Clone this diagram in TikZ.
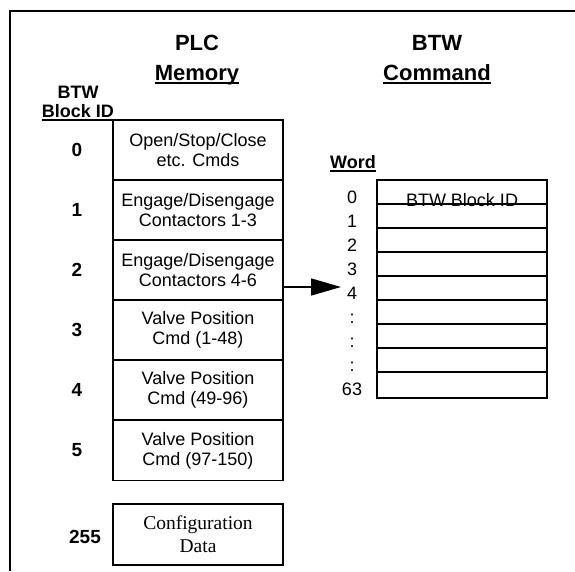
\documentclass[tikz,border=0pt]{standalone}
\usepackage{fontspec}
\setmainfont{Liberation Sans}
\newfontfamily\serifx{Liberation Serif}
\usetikzlibrary{arrows.meta}
\newcommand{\ulx}[1]{\setbox0\hbox{#1}\rlap{\vrule height -2pt depth 4pt width \wd0}\box0}
\begin{document}
\begin{tikzpicture}[x=1pt,y=-1pt,
  mem/.style={draw, line width=1.8pt, minimum width=170pt, minimum height=60pt, inner sep=0pt, align=center, font=\fontsize{18}{20}\selectfont},
  head/.style={anchor=base, inner sep=0pt, font=\fontsize{22}{22}\selectfont\bfseries},
  subhead/.style={anchor=base, inner sep=0pt, font=\fontsize{18}{18}\selectfont\bfseries},
  idnum/.style={inner sep=0pt, font=\fontsize{19}{19}\selectfont\bfseries},
  wnum/.style={anchor=base, inner sep=0pt, font=\fontsize{18}{18}\selectfont},
  rowline/.style={line width=1.5pt},
  arr/.style={line width=1.5pt, -{Triangle[length=30pt,width=17pt]}}
]
\useasboundingbox (0,0) rectangle (575,571);
% frame
\draw[line width=2pt] (575,11) -- (10,11) -- (10,571);
% headings
\node[head] (plc) at (197,50) {PLC};
\node[head] (memory) at (197,80) {\ulx{Memory}};
\node[head] (btwc) at (437,50) {BTW};
\node[head] (command) at (437,80) {\ulx{Command}};
\node[subhead] (btwl) at (78,98) {BTW};
\node[subhead] (blockid) at (78,117) {\ulx{Block ID}};
\node[subhead] (word) at (353,168) {\ulx{Word}};
% memory boxes
\node[mem] (m0) at (198,150) {Open/Stop/Close\\etc. Cmds};
\node[mem] (m1) at (198,210) {Engage/Disengage\\Contactors 1-3};
\node[mem] (m2) at (198,270) {Engage/Disengage\\Contactors 4-6};
\node[mem] (m3) at (198,330) {Valve Position\\Cmd (1-48)};
\node[mem] (m4) at (198,390) {Valve Position\\Cmd (49-96)};
\node[mem] (m5) at (198,450.5) {Valve Position\\Cmd (97-150)};
\node[mem, minimum height=61pt, font=\serifx\fontsize{19.5}{23}\selectfont] (cfg) at (198,534.5) {Configuration\\Data};
% block IDs
\node[idnum] (id0) at (77,150) {0};
\node[idnum] (id1) at (77,210) {1};
\node[idnum] (id2) at (77,270) {2};
\node[idnum] (id3) at (77,330) {3};
\node[idnum] (id4) at (77,390) {4};
\node[idnum] (id5) at (77,450) {5};
\node[idnum] (id255) at (85,537) {255};
% word table
\node[anchor=base, inner sep=0pt, font=\fontsize{18}{18}\selectfont] (btwid) at (462,206) {BTW Block ID};
\draw[rowline] (377,180) rectangle (547,398);
\foreach \yy in {204,228,252,276,300,324,348,372}
  \draw[rowline] (377,\yy) -- (547,\yy);
% word numbers
\node[wnum] (w0) at (352,203) {0};
\node[wnum] (w1) at (352,227) {1};
\node[wnum] (w2) at (352,251) {2};
\node[wnum] (w3) at (352,275) {3};
\node[wnum] (w4) at (352,299) {4};
\node[wnum] (w5) at (352,323) {:};
\node[wnum] (w6) at (352,347) {:};
\node[wnum] (w7) at (352,371) {:};
\node[wnum] (w63) at (352,395) {63};
% arrow
\coordinate (tip) at (341,287);
\draw[arr] ([yshift=-17pt]m2.east) -- (tip);
\end{tikzpicture}
\end{document}
